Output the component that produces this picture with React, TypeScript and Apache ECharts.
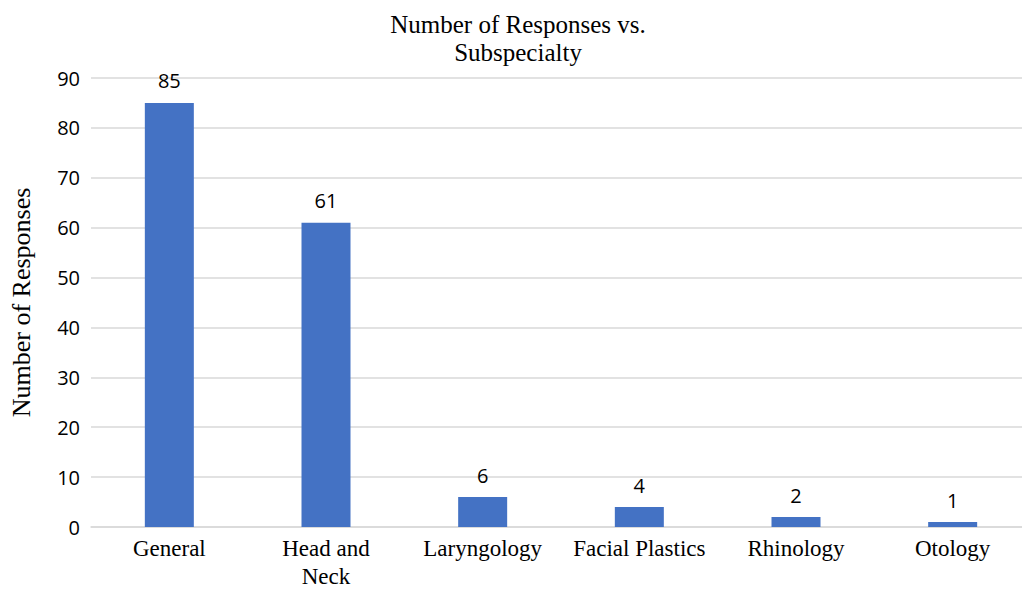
import React, { useEffect, useRef } from "react";
import * as echarts from "echarts";

const categories = ["General", "Head and\nNeck", "Laryngology", "Facial Plastics", "Rhinology", "Otology"];
const responses = [85, 61, 6, 4, 2, 1];
const yTicks = { min: 0, max: 90, interval: 10 };

export default function App() {
  const ref = useRef<HTMLDivElement>(null);
  useEffect(() => {
    document.body.style.margin = "0";
    const chart = echarts.init(ref.current!, undefined, { renderer: "svg" });
    chart.setOption({
      animation: false,
      backgroundColor: "#ffffff",
      title: {
        text: "Number of Responses vs.\nSubspecialty",
        left: 513,
        textAlign: "center",
        top: 5,
        textStyle: {
          fontFamily: "Liberation Serif",
          fontWeight: "normal",
          fontSize: 25,
          lineHeight: 28,
          color: "#000",
        },
      },
      grid: { left: 91, right: 0, top: 78, height: 451, containLabel: false },
      xAxis: {
        type: "category",
        data: categories,
        axisLine: { show: true, lineStyle: { color: "#D9D9D9", width: 1.5 } },
        axisTick: { show: false },
        axisLabel: {
          interval: 0,
          margin: 7,
          fontFamily: "Liberation Serif",
          fontSize: 23,
          lineHeight: 28,
          color: "#000",
        },
      },
      yAxis: {
        type: "value",
        min: yTicks.min,
        max: yTicks.max,
        interval: yTicks.interval,
        name: "Number of Responses",
        nameLocation: "middle",
        nameGap: 57,
        nameTextStyle: { fontFamily: "Liberation Serif", fontSize: 26, color: "#000" },
        axisLine: { show: false },
        axisTick: { show: false },
        splitLine: { lineStyle: { color: "#D9D9D9", width: 1.5 } },
        axisLabel: { margin: 11, fontFamily: "Open Sans", fontSize: 20, color: "#000" },
      },
      series: [
        {
          type: "bar",
          data: responses,
          barWidth: 49,
          itemStyle: { color: "#4472C4" },
          label: {
            show: true,
            position: "top",
            distance: 12,
            fontFamily: "Open Sans",
            fontSize: 20,
            color: "#000",
          },
        },
      ],
    });
    return () => chart.dispose();
  }, []);
  return (
    <div style={{ position: "absolute", left: 0, top: 0, width: 1022, height: 590, overflow: "hidden" }}>
      <div ref={ref} style={{ width: 1031, height: 590 }} />
    </div>
  );
}
